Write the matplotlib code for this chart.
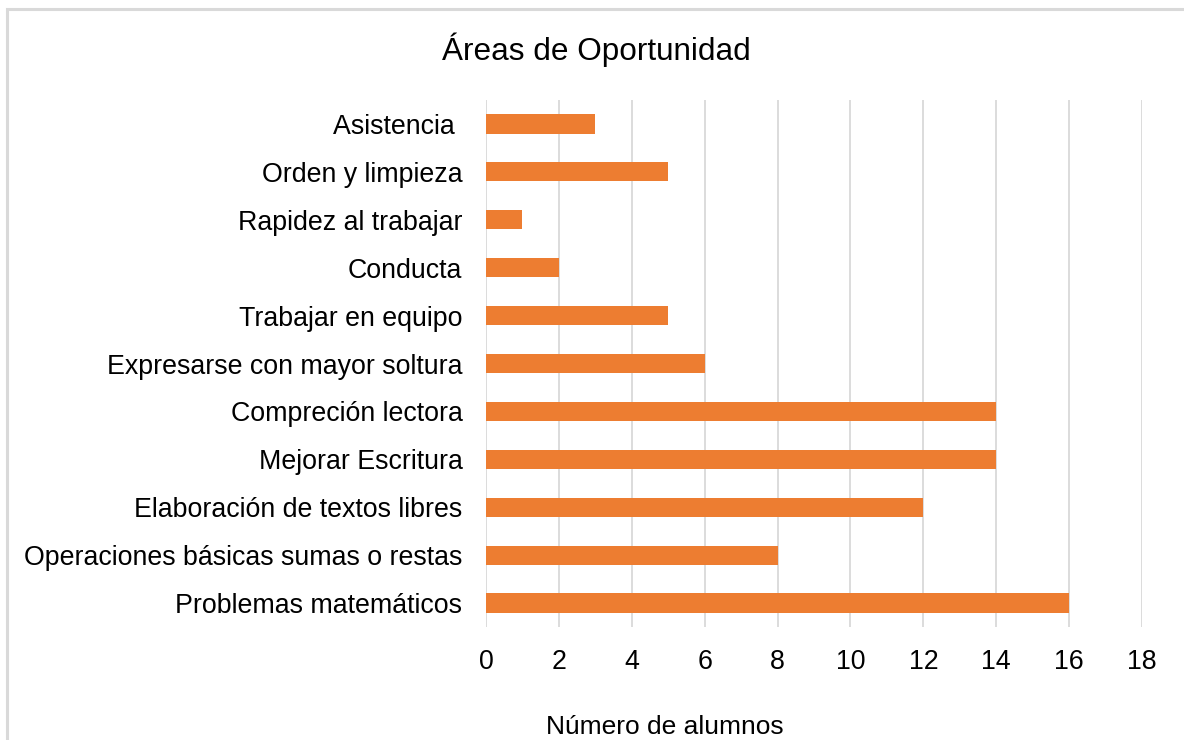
import matplotlib
matplotlib.use("Agg")
import matplotlib.pyplot as plt
from matplotlib.patches import Rectangle

plt.rcParams['font.family'] = ['Liberation Sans', 'DejaVu Sans']

# data, bottom to top
categories = [
    "Problemas matemáticos",
    "Operaciones básicas sumas o restas",
    "Elaboración de textos libres",
    "Mejorar Escritura",
    "Compreción lectora",
    "Expresarse con mayor soltura",
    "Trabajar en equipo",
    "Conducta",
    "Rapidez al trabajar",
    "Orden y limpieza",
    "Asistencia ",
]
alumnos = [16, 8, 12, 14, 14, 6, 5, 2, 1, 5, 3]
x_ticks = list(range(0, 19, 2))

W, H = 1184, 740
fig = plt.figure(figsize=(W / 100, H / 100), dpi=100)

# light grey chart frame (cropped at right and bottom)
fig.patches.append(Rectangle((7 / W, -0.1), 1.2, 1 - 9 / H + 0.1, transform=fig.transFigure,
                             fill=False, edgecolor='#d9d9d9', linewidth=2.2))

ax = fig.add_axes([486 / W, 1 - 627 / H, (1142 - 486) / W, (627 - 100) / H])
ypos = list(range(len(categories)))
ax.barh(ypos, alumnos, height=0.4, color='#ED7D31', zorder=3)

ax.set_xlim(0, 18)
ax.set_ylim(-0.5, len(categories) - 0.5)
ax.set_xticks(x_ticks)
ax.set_yticks(ypos)
ax.set_yticklabels(categories)
ax.tick_params(axis='both', length=0, labelsize=19.3, labelcolor='black')
ax.tick_params(axis='x', pad=15.5)
ax.tick_params(axis='y', pad=17)
ax.grid(axis='x', color='#d9d9d9', linewidth=1.3, zorder=0)
for s in ax.spines.values():
    s.set_visible(False)

fig.text(596 / W, 1 - 50 / H, "Áreas de Oportunidad", fontsize=22.7, ha='center', va='center')
fig.text(665 / W, 1 - 727 / H, "Número de alumnos", fontsize=19, ha='center', va='center')

fig.savefig("out.png", dpi=100)
